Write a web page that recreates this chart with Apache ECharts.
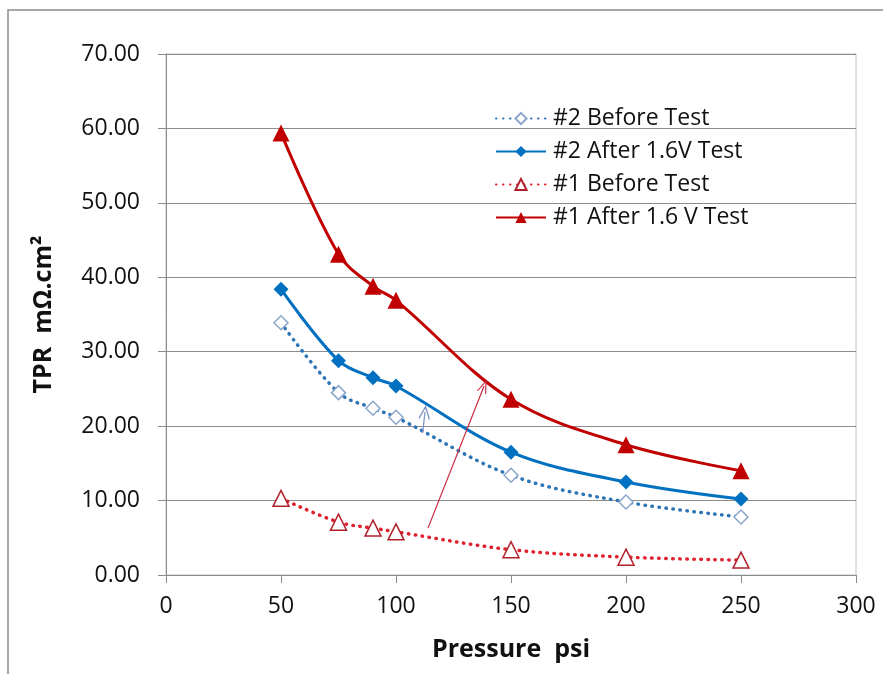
<!DOCTYPE html>
<html><head><meta charset="utf-8">
<script src="https://cdn.jsdelivr.net/npm/echarts@6/dist/echarts.min.js"></script>
<style>html,body{margin:0;padding:0;background:#fff}#c{width:883px;height:674px}</style>
</head><body><div id="c"></div>
<script>
const pressure = [50, 75, 90, 100, 150, 200, 250];
const s2Before = [33.9, 24.5, 22.4, 21.2, 13.4, 9.8, 7.8];
const s2After = [38.4, 28.8, 26.5, 25.4, 16.5, 12.5, 10.2];
const s1Before = [10.3, 7.1, 6.3, 5.8, 3.4, 2.4, 2.0];
const s1After = [59.4, 43.1, 38.8, 36.9, 23.6, 17.5, 14.0];
const names = ['#2 Before Test', '#2 After 1.6V Test', '#1 Before Test', '#1 After 1.6 V Test'];
const redArrow = [[113.9, 6.3], [138.3, 25.4]];
const blueArrow = [[111.6, 19.1], [112.6, 21.9]];

const pts = v => pressure.map((p, i) => [p, v[i]]);
const font = '"Open Sans", sans-serif';
const openArrow = 'path://M0,10 L5,0 L10,10 L8.8,10 L5,2.4 L1.2,10 Z';
const chart = echarts.init(document.getElementById('c'));
chart.setOption({
  animation: false,
  graphic: [{type: 'rect', shape: {x: 8, y: 10, width: 900, height: 700}, style: {fill: 'none', stroke: '#8c8c8c', lineWidth: 1.5}, z: -1}],
  grid: {left: 166, right: 27, top: 54, bottom: 99, show: true, borderColor: '#b8c4d0', borderWidth: 1},
  legend: {
    orient: 'vertical', left: 490, top: 102, itemGap: 10, itemWidth: 50, itemHeight: 14,
    textStyle: {fontSize: 23, fontFamily: font, color: '#111', padding: [0, 0, 0, 2]},
    data: names
  },
  xAxis: {
    type: 'value', min: 0, max: 300, interval: 50,
    name: 'Pressure  psi', nameLocation: 'middle', nameGap: 62,
    nameTextStyle: {fontSize: 25, fontWeight: 'bold', fontFamily: font, color: '#111'},
    axisLine: {show: true, lineStyle: {color: '#8c8c8c'}},
    axisTick: {show: true, length: 8, lineStyle: {color: '#8c8c8c'}},
    axisLabel: {fontSize: 23, fontFamily: font, color: '#111', margin: 20},
    splitLine: {show: false}
  },
  yAxis: {
    type: 'value', min: 0, max: 70, interval: 10,
    name: 'TPR  mΩ.cm²', nameLocation: 'middle', nameGap: 110, nameRotate: 90,
    nameTextStyle: {fontSize: 25, fontWeight: 'bold', fontFamily: font, color: '#111'},
    axisLine: {show: true, lineStyle: {color: '#8c8c8c'}},
    axisTick: {show: true, length: 8, inside: false, lineStyle: {color: '#8c8c8c'}},
    axisLabel: {fontSize: 23, fontFamily: font, color: '#111', margin: 26, formatter: v => v.toFixed(2)},
    splitLine: {show: true, lineStyle: {color: '#8c8c8c', width: 1}}
  },
  series: [
    {name: names[0], type: 'line', data: pts(s2Before), smooth: 0.35,
     symbol: 'diamond', symbolSize: 14,
     lineStyle: {color: '#2e75b6', width: 3.5, type: [0.5, 6.5], cap: 'round'},
     itemStyle: {color: '#fff', borderColor: '#8aa6cc', borderWidth: 1.5}, z: 3},
    {name: names[1], type: 'line', data: pts(s2After), smooth: 0.35,
     symbol: 'diamond', symbolSize: 15,
     lineStyle: {color: '#0070c0', width: 3},
     itemStyle: {color: '#0070c0'}, z: 4,
     markLine: {silent: true, symbol: ['none', openArrow], symbolSize: [12, 14], label: {show: false},
       lineStyle: {color: '#7f96c4', width: 1.3, type: 'solid'},
       data: [[{coord: blueArrow[0]}, {coord: blueArrow[1]}]]}},
    {name: names[2], type: 'line', data: pts(s1Before), smooth: 0.35,
     symbol: 'triangle', symbolSize: 16,
     lineStyle: {color: '#e0202d', width: 3.5, type: [0.5, 6.5], cap: 'round'},
     itemStyle: {color: '#fff', borderColor: '#b01f2a', borderWidth: 1.5}, z: 3},
    {name: names[3], type: 'line', data: pts(s1After), smooth: 0.35,
     symbol: 'triangle', symbolSize: 17,
     lineStyle: {color: '#c00000', width: 3},
     itemStyle: {color: '#c00000'}, z: 4,
     markLine: {silent: true, symbol: ['none', openArrow], symbolSize: [10, 14], label: {show: false},
       lineStyle: {color: '#c8283c', width: 1.2, type: 'solid'},
       data: [[{coord: redArrow[0]}, {coord: redArrow[1]}]]}}
  ]
});
</script></body></html>
